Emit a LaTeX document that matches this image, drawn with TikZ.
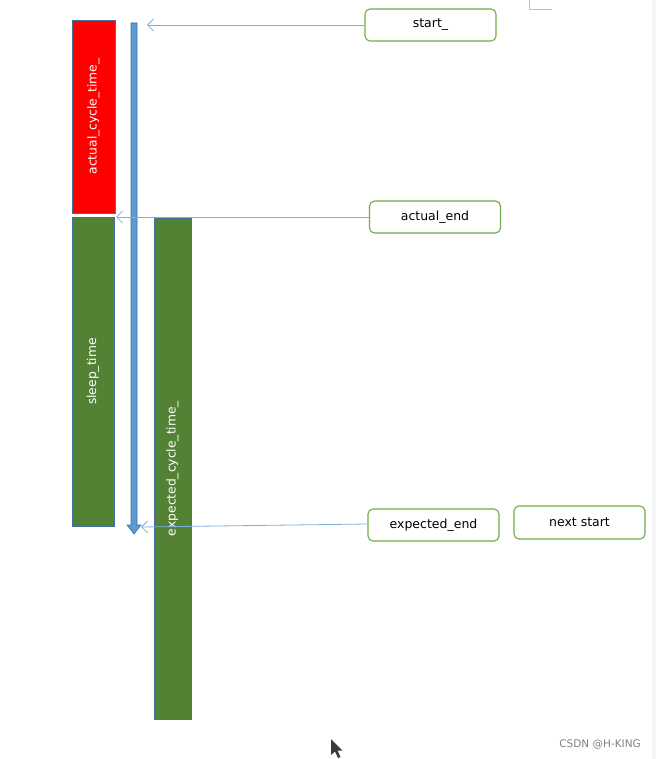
\documentclass[tikz,border=0pt]{standalone}
\definecolor{TRed}{HTML}{FF0000}
\definecolor{TGreen}{HTML}{548235}
\definecolor{TEdge}{HTML}{41719C}
\definecolor{TBar}{HTML}{5B9BD5}
\definecolor{TLine}{HTML}{7FAEDC}
\definecolor{TBoxEdge}{HTML}{70AD47}
\definecolor{TMark}{HTML}{BFBFBF}
\definecolor{TStrip}{HTML}{F4F5F7}
\definecolor{TCursor}{HTML}{3A3A3A}
\usepackage{fontspec}
\setmainfont{DejaVu Sans}
\usepackage{tikz}
\usetikzlibrary{arrows.meta,positioning,calc}

\tikzset{
    phase/.style={rectangle,draw=TEdge,line width=0.8pt,rotate=90,
                  text=white,font=\fontsize{12.3}{14}\selectfont,inner sep=0pt},
    event/.style={rectangle,rounded corners=5pt,draw=TBoxEdge,line width=1.1pt,
                  fill=white,minimum width=131pt,minimum height=32pt,
                  inner sep=0pt,font=\fontsize{12.5}{14}\selectfont},
    pointer/.style={draw=TLine,line width=0.8pt,
                    -{Straight Barb[length=6pt,width=12pt,line width=0.8pt]}},
}

\begin{document}
\begin{tikzpicture}[x=1pt,y=-1pt]
    \useasboundingbox (0,0) rectangle (656,759);
    \fill[TStrip] (652,0) rectangle (656,759);
    \draw[TMark,line width=0.6pt] (529,0) -- (529,9) -- (552,9);

    % phases
    \node[phase,fill=TRed,minimum width=193pt,minimum height=43pt]
        (actualCycle) at (93.5,116.5) {actual\_cycle\_time\_};
    \node[phase,fill=TGreen,minimum width=309pt,minimum height=42pt]
        (sleepTime) at (93,371.5) {sleep\_time};
    \node[phase,fill=TGreen,minimum width=501pt,minimum height=37pt]
        (expectedCycle) at (172.5,468.5) {expected\_cycle\_time\_};

    % time line
    \fill[TBar,draw=TEdge,line width=0.6pt]
        (131,23) -- (137,23) -- (137,525) -- (141,525) -- (134,534)
        -- (127,525) -- (131,525) -- cycle;
    \coordinate (tStart) at (147,25);
    \coordinate (tActual) at (116,217);
    \coordinate (tExpected) at (141,527);

    % events
    \node[event] (start) at (430.5,25) {\raisebox{-1.5pt}{start\_}};
    \node[event] (actualEnd) at (435,217) {\raisebox{-1.5pt}{actual\_end}};
    \node[event] (expectedEnd) at (433.5,525) {\raisebox{-1.5pt}{expected\_end}};
    \node[event,minimum height=33pt] (nextStart) at (579.5,522.5)
        {\raisebox{-1pt}{next start}};

    \draw[pointer] (start.west) -- (tStart);
    \draw[pointer] (actualEnd.west) -- (tActual);
    \draw[pointer] ($(expectedEnd.west)+(0,-1)$) -- (tExpected);

    \fill[TCursor] (331,739) -- (331,755) -- (335,751.5) -- (338,758)
        -- (340.5,757) -- (337.5,750.5) -- (342.5,750.5) -- cycle;
    \node[text=gray,font=\fontsize{10.5}{12}\selectfont,anchor=east,inner sep=0pt]
        (mark) at (641,745) {CSDN @H-KING};
\end{tikzpicture}
\end{document}
